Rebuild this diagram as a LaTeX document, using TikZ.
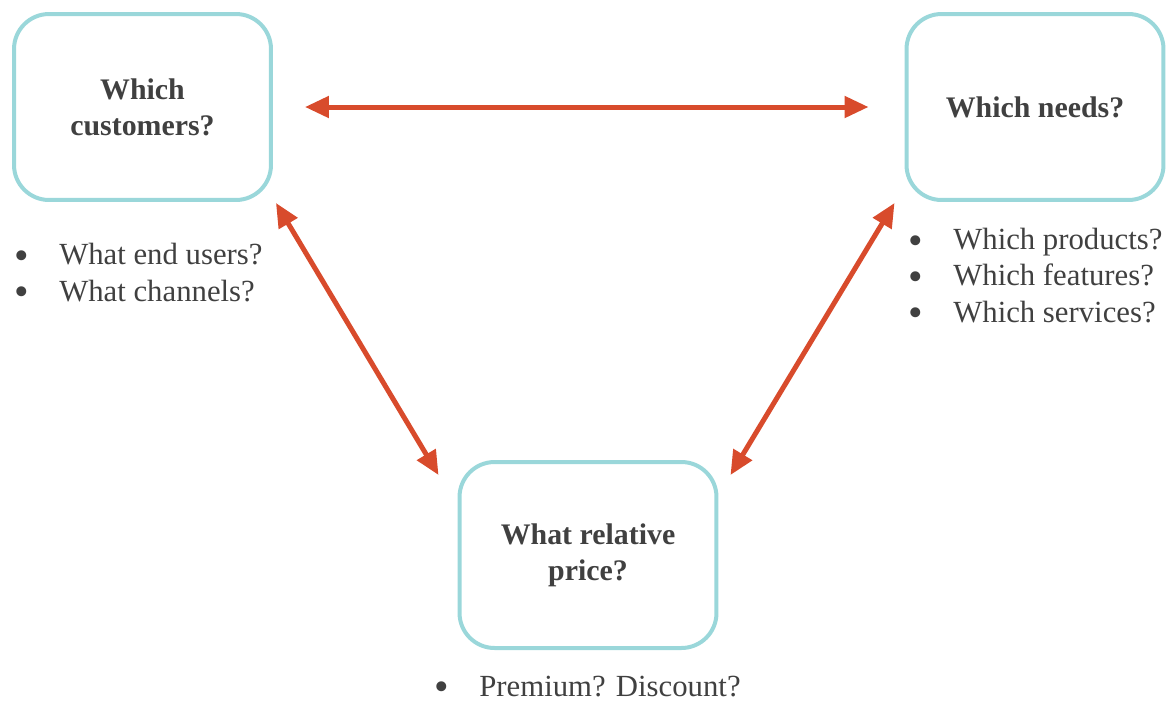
\documentclass[tikz,border=0pt]{standalone}
\usepackage{fontspec}
\setmainfont{Liberation Serif}
\usetikzlibrary{arrows.meta}
\definecolor{boxcol}{HTML}{9AD7DA}
\definecolor{arrcol}{HTML}{D84B2C}
\definecolor{txtcol}{HTML}{404040}
\newcommand{\itm}{\makebox[0.9cm][l]{\raisebox{-0.35ex}{\scalebox{1.35}{\textbullet}}}}
\begin{document}
\begin{tikzpicture}[
                            x=0.02cm, y=-0.02cm,
                            >={Triangle[length=0.48cm,width=0.42cm]},
                            question/.style={draw=boxcol, line width=0.08cm, rounded corners=0.7cm,
                                minimum width=5.14cm, minimum height=3.72cm, align=center,
                                text=txtcol, font=\fontsize{17}{20.5}\selectfont\bfseries},
                            points/.style={anchor=base west, align=left, inner sep=0pt,
                                text=txtcol, font=\fontsize{17.5}{20.5}\selectfont},
                            link/.style={<->, draw=arrcol, line width=0.1cm}
                            ]
            \useasboundingbox (0,0) rectangle (1168,701);

            \node [question] (cust) at (142.5,107) {Which\\customers?};
            \node [question] (needs) at (1035,107) {Which needs?};
            \node [question] (price) at (588,555) {What relative\\price?};

            % base = last line of each list
            \node [points] (custlist) at (14,301) {\itm What end users?\\\itm What channels?};
            \node [points] (needslist) at (908,322) {\itm Which products?\\\itm Which features?\\\itm Which services?};
            \node [points] (pricelist) at (434,696) {\itm Premium? Discount?};

            \draw[link] ([shift={(32,0)}]cust.east) -- ([shift={(-36,0)}]needs.west);
            \draw[link] ([shift={(3,1)}]cust.south east) -- ([shift={(-19,15)}]price.north west);
            \draw[link] ([shift={(-10,1)}]needs.south west) -- ([shift={(12,15)}]price.north east);
        \end{tikzpicture}
\end{document}
